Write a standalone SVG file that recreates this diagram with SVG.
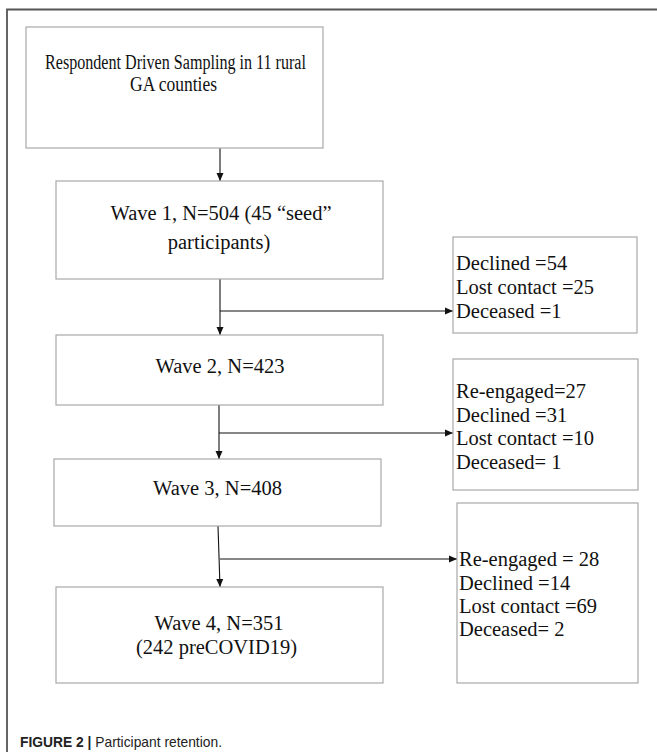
<svg xmlns="http://www.w3.org/2000/svg" width="657" height="752" viewBox="0 0 657 752">
<style>
.box{fill:#fff;stroke:#a8a8a8;stroke-width:1.2}
.t{font-family:"Liberation Serif","Times New Roman",serif;font-size:20.5px;fill:#111}
.c{text-anchor:middle}
.ln{stroke:#111;stroke-width:1.1;fill:none}
.cap{font-family:"Liberation Sans",Arial,sans-serif;font-size:15px;fill:#222}
</style>
<defs>
<marker id="ah" viewBox="0 0 8 8" refX="8" refY="4" markerWidth="8" markerHeight="8" markerUnits="userSpaceOnUse" orient="auto">
<path d="M0,0.5 L8,4 L0,7.5 Z" fill="#111"/>
</marker>
</defs>
<rect width="657" height="752" fill="#fff"/>
<g id="frame">
<path d="M7,752 V9.5 H657" fill="none" stroke="#555" stroke-width="1.8"/>
</g>
<g id="connectors">
<line class="ln" x1="220" y1="148" x2="220" y2="181" marker-end="url(#ah)"/>
<line class="ln" x1="220" y1="279" x2="220" y2="335" marker-end="url(#ah)"/>
<line class="ln" x1="220" y1="311" x2="453" y2="311" marker-end="url(#ah)"/>
<line class="ln" x1="219" y1="405" x2="219" y2="459" marker-end="url(#ah)"/>
<line class="ln" x1="219" y1="433" x2="453" y2="433" marker-end="url(#ah)"/>
<line class="ln" x1="218" y1="526" x2="220" y2="587" marker-end="url(#ah)"/>
<line class="ln" x1="220" y1="559" x2="457" y2="559" marker-end="url(#ah)"/>
</g>
<g id="start">
<rect class="box" x="26" y="27" width="297" height="121"/>
<text class="t c" x="175.5" y="69" textLength="261" lengthAdjust="spacingAndGlyphs">Respondent Driven Sampling in 11 rural</text>
<text class="t c" x="173.5" y="91" textLength="87" lengthAdjust="spacingAndGlyphs">GA counties</text>
</g>
<g id="wave1">
<rect class="box" x="56" y="181" width="327" height="98"/>
<text class="t c" x="221" y="220">Wave 1, N=504 (45 “seed”</text>
<text class="t c" x="219" y="249">participants)</text>
</g>
<g id="loss1">
<rect class="box" x="453" y="237" width="184" height="96"/>
<text class="t" x="456" y="270">Declined =54</text>
<text class="t" x="456" y="294">Lost contact =25</text>
<text class="t" x="456" y="318">Deceased =1</text>
</g>
<g id="wave2">
<rect class="box" x="56" y="335" width="327" height="70"/>
<text class="t c" x="220" y="373">Wave 2, N=423</text>
</g>
<g id="loss2">
<rect class="box" x="453" y="359" width="185" height="131"/>
<text class="t" x="456" y="398">Re-engaged=27</text>
<text class="t" x="456" y="421.5">Declined =31</text>
<text class="t" x="456" y="445">Lost contact =10</text>
<text class="t" x="456" y="469">Deceased= 1</text>
</g>
<g id="wave3">
<rect class="box" x="54" y="459" width="327" height="67"/>
<text class="t c" x="217.5" y="495">Wave 3, N=408</text>
</g>
<g id="loss3">
<rect class="box" x="457" y="503" width="181" height="180"/>
<text class="t" x="459" y="566">Re-engaged = 28</text>
<text class="t" x="459" y="590">Declined =14</text>
<text class="t" x="459" y="613">Lost contact =69</text>
<text class="t" x="459" y="636">Deceased= 2</text>
</g>
<g id="wave4">
<rect class="box" x="56" y="587" width="327" height="96"/>
<text class="t c" x="219" y="630">Wave 4, N=351</text>
<text class="t c" x="216.5" y="654">(242 preCOVID19)</text>
</g>
<g id="caption">
<text class="cap" x="20" y="747" textLength="202" lengthAdjust="spacingAndGlyphs"><tspan font-weight="bold">FIGURE 2 |</tspan> Participant retention.</text>
</g>
</svg>
